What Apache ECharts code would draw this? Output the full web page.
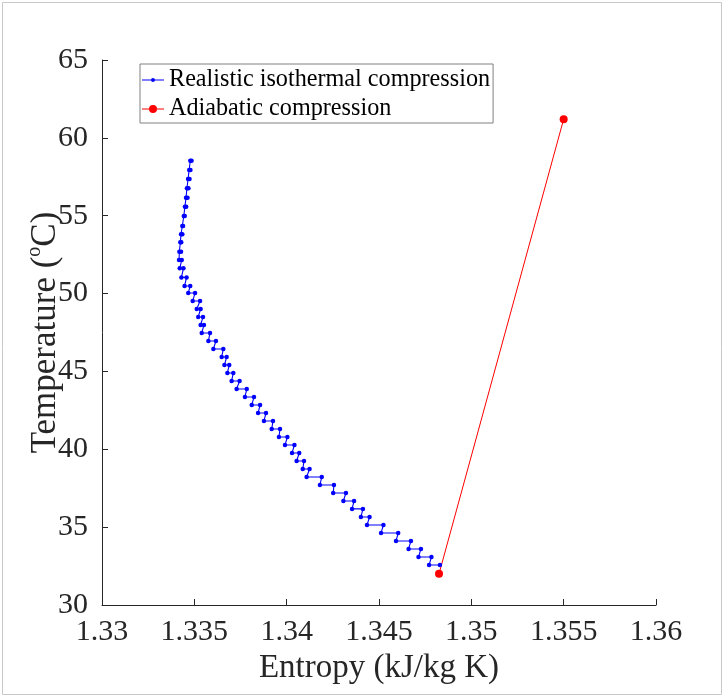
<!DOCTYPE html>
<html>
<head>
<meta charset="utf-8">
<script src="https://cdn.jsdelivr.net/npm/echarts@6/dist/echarts.min.js"></script>
<style>html,body{margin:0;padding:0;background:#fff;}#c{width:725px;height:698px;}</style>
</head>
<body>
<div id="c"></div>
<script>
// Realistic isothermal compression: each temperature level has a left and right entropy point
const levelTemp = [58.53,57.94,57.36,56.76,56.16,55.58,54.98,54.34,53.81,53.29,
  52.69,52.16,51.62,51.04,50.49,50.04,49.52,49.01,48.50,47.98,
  47.47,46.95,46.44,45.93,45.41,44.90,44.39,43.87,43.36,42.84,
  42.33,41.82,41.30,40.79,40.28,39.76,39.25,38.73,38.22,37.71,
  37.19,36.68,36.17,35.65,35.14,34.62,34.11,33.60,33.08,32.57];
const leftEntropy = [1.33478,1.33472,1.33466,1.33460,1.33455,1.33449,1.33443,1.33435,1.33428,1.33424,
  1.33419,1.33417,1.33421,1.33430,1.33447,1.33467,1.33491,1.33513,1.33521,1.33534,
  1.33540,1.33576,1.33603,1.33648,1.33663,1.33679,1.33702,1.33729,1.33774,1.33811,
  1.33845,1.33877,1.33919,1.33958,1.33991,1.34029,1.34054,1.34087,1.34108,1.34180,
  1.34252,1.34307,1.34354,1.34402,1.34435,1.34511,1.34592,1.34660,1.34714,1.34771];
const rightEntropy = [1.33485,1.33479,1.33474,1.33468,1.33463,1.33456,1.33448,1.33439,1.33435,1.33429,
  1.33428,1.33432,1.33441,1.33458,1.33478,1.33504,1.33531,1.33534,1.33547,1.33552,
  1.33585,1.33617,1.33657,1.33675,1.33689,1.33711,1.33745,1.33784,1.33823,1.33856,
  1.33888,1.33926,1.33964,1.34004,1.34042,1.34068,1.34094,1.34124,1.34190,1.34256,
  1.34321,1.34365,1.34413,1.34449,1.34524,1.34604,1.34673,1.34727,1.34784,1.34830];
// Adiabatic compression
const adiabaticEntropy = [1.34825, 1.35500];
const adiabaticTemp = [32.0, 61.2];
// Axis ticks
const xTicks = {min: 1.33, max: 1.36, interval: 0.005};
const yTicks = {min: 30, max: 65, interval: 5};

const isoData = [];
for (let i = 0; i < levelTemp.length; i++) {
  isoData.push([leftEntropy[i], levelTemp[i]]);
  isoData.push([rightEntropy[i], levelTemp[i]]);
}
const adiData = adiabaticEntropy.map((s, i) => [s, adiabaticTemp[i]]);

const FONT = '"Liberation Serif", "Times New Roman", serif';
const chart = echarts.init(document.getElementById('c'), null, {renderer: 'canvas'});
chart.setOption({
  animation: false,
  backgroundColor: '#ffffff',
  graphic: [{
    type: 'rect', silent: true, z: -10,
    shape: {x: 2.5, y: 2.5, width: 719, height: 692},
    style: {fill: 'none', stroke: '#c8c8c8', lineWidth: 1}
  }],
  grid: {left: 102, right: 69, top: 60, bottom: 93, containLabel: false},
  legend: {
    orient: 'vertical', left: 140, top: 64,
    borderColor: '#808080', borderWidth: 1, padding: [2, 3, 0, 2],
    itemWidth: 22, itemHeight: 14, itemGap: 1,
    symbolKeepAspect: true,
    textStyle: {fontFamily: FONT, fontSize: 24.2, color: '#000', lineHeight: 28},
    data: [
      {name: 'Realistic isothermal compression', icon: 'path://M0,6.5L22,6.5L22,7.5L0,7.5Z M11,5A2,2 0 1,1 11,9A2,2 0 1,1 11,5Z'},
      {name: 'Adiabatic compression', icon: 'path://M0,3.5L22,3.5L22,4.5L0,4.5Z M11,0A4,4 0 1,1 11,8A4,4 0 1,1 11,0Z'}
    ]
  },
  xAxis: {
    type: 'value', min: xTicks.min, max: xTicks.max, interval: xTicks.interval,
    name: 'Entropy (kJ/kg K)', nameLocation: 'middle', nameGap: 45,
    nameTextStyle: {fontFamily: FONT, fontSize: 33, color: '#262626'},
    axisLine: {show: true, lineStyle: {color: '#262626', width: 1}},
    axisTick: {show: true, inside: true, length: 6, lineStyle: {color: '#262626'}},
    axisLabel: {fontFamily: FONT, fontSize: 30, color: '#262626', margin: 12,
      formatter: v => String(+v.toFixed(3))},
    splitLine: {show: false}
  },
  yAxis: {
    type: 'value', min: yTicks.min, max: yTicks.max, interval: yTicks.interval,
    name: 'Temperature ({sup|o}C)', nameLocation: 'middle', nameGap: 35, nameRotate: 90,
    nameMoveOverlap: false,
    nameTextStyle: {fontFamily: FONT, fontSize: 35, color: '#262626',
      rich: {sup: {fontFamily: FONT, fontSize: 20, color: '#262626', verticalAlign: 'top', lineHeight: 42}}},
    axisLine: {show: true, lineStyle: {color: '#262626', width: 1}},
    axisTick: {show: true, inside: true, length: 6, lineStyle: {color: '#262626'}},
    axisLabel: {fontFamily: FONT, fontSize: 30, color: '#262626', margin: 14},
    splitLine: {show: false}
  },
  series: [
    {
      name: 'Realistic isothermal compression', type: 'line', data: isoData,
      symbol: 'circle', symbolSize: 4.5, showAllSymbol: true,
      lineStyle: {color: '#0000ff', width: 1.1}, itemStyle: {color: '#0000ff'}
    },
    {
      name: 'Adiabatic compression', type: 'line', data: adiData,
      symbol: 'circle', symbolSize: 8,
      lineStyle: {color: '#ff0000', width: 1}, itemStyle: {color: '#ff0000'}
    }
  ]
});
</script>
</body>
</html>
